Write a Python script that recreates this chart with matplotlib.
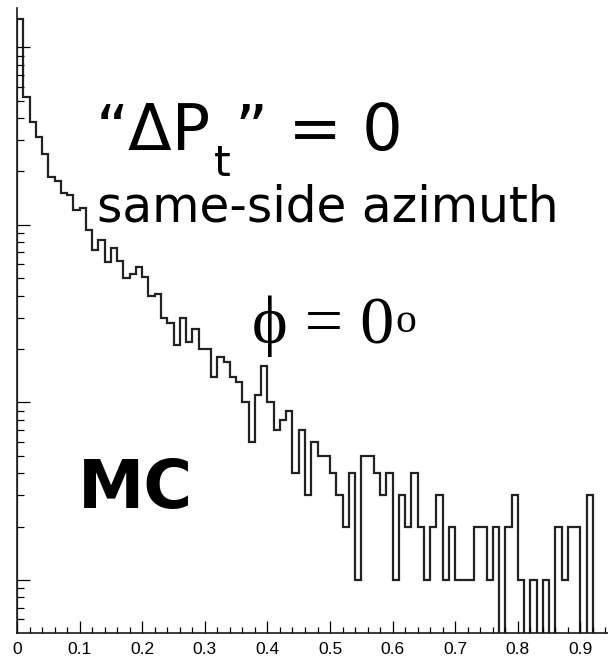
import numpy as np
import matplotlib
matplotlib.use("Agg")
import matplotlib.pyplot as plt
from matplotlib.ticker import FixedLocator, MultipleLocator, LogLocator, NullFormatter

# ---------------- data ----------------
bin_width = 0.01
counts = [1436, 525, 380, 311, 250, 186, 176, 151, 147, 121,
          125, 94, 72, 82, 62, 74, 63, 50, 53, 58,
          51, 40, 41, 30, 28, 21, 30, 22, 26, 20,
          20, 14, 18, 17, 14, 13, 10, 6, 11, 16,
          10, 7, 8, 9, 4, 7, 3, 6, 5, 5,
          4, 3, 2, 4, 1, 5, 5, 4, 3, 4,
          1, 3, 2, 4, 2, 1, 2, 3, 1, 2,
          1, 1, 1, 2, 2, 1, 2, 0, 2, 3,
          1, 0, 1, 0, 1, 0, 2, 1, 2, 2,
          0, 3]
x_tick_values = [0, 0.1, 0.2, 0.3, 0.4, 0.5, 0.6, 0.7, 0.8, 0.9]
x_tick_labels = ["0", "0.1", "0.2", "0.3", "0.4", "0.5", "0.6", "0.7", "0.8", "0.9"]
y_range = (0.505, 1660)
x_max = 0.944

# ---------------- figure ----------------
W, H = 608, 664
fig = plt.figure(figsize=(W / 100, H / 100), dpi=100)
ax_left, ax_bottom_px, ax_top_px = 17, 632.7, 8.3
ax = fig.add_axes([ax_left / W, (H - ax_bottom_px) / H,
                   (W - ax_left) / W, (ax_bottom_px - ax_top_px) / H])

edges = np.arange(len(counts) + 1) * bin_width
ax.stairs(counts, edges, baseline=0, fill=False, color="#222222", linewidth=1.6)

ax.set_yscale("log")
ax.set_xlim(0, x_max)
ax.set_ylim(*y_range)

for s in ("top", "right"):
    ax.spines[s].set_visible(False)
for s in ("left", "bottom"):
    ax.spines[s].set_linewidth(1.2)
    ax.spines[s].set_color("#1a1a1a")

ax.xaxis.set_major_locator(FixedLocator(x_tick_values))
ax.set_xticklabels(x_tick_labels, fontfamily="Liberation Sans", fontsize=12.5)
ax.xaxis.set_minor_locator(MultipleLocator(0.02))
ax.tick_params(axis="x", which="major", direction="in", length=9, width=0.9, pad=7)
ax.tick_params(axis="x", which="minor", direction="in", length=4.5, width=0.9)

ax.yaxis.set_major_locator(LogLocator(base=10))
ax.yaxis.set_minor_locator(LogLocator(base=10, subs=np.arange(2, 10)))
ax.yaxis.set_minor_formatter(NullFormatter())
ax.tick_params(axis="y", which="major", direction="in", length=9.5, width=0.9, labelleft=False)
ax.tick_params(axis="y", which="minor", direction="in", length=4.8, width=0.9, labelleft=False)


def fpos(x, y):
    return x / W, 1 - y / H


# "ΔPt" = 0
t1 = fig.text(*fpos(96, 150), "\u201cΔP", fontsize=46, family="DejaVu Sans",
              va="baseline", ha="left")
t2 = ax.annotate("t", xy=(1.0, 0.0), xycoords=t1, xytext=(2, -16),
                 textcoords="offset points", fontsize=31, family="DejaVu Sans",
                 va="bottom", ha="left", annotation_clip=False)
t3 = ax.annotate("\u201d = 0", xy=(1.0, 0.0), xycoords=(t2, t1), xytext=(3, 0),
                 textcoords="offset points", fontsize=46, family="DejaVu Sans",
                 va="bottom", ha="left", annotation_clip=False)

fig.text(*fpos(97, 222), "same-side azimuth", fontsize=35, family="DejaVu Sans",
         va="baseline", ha="left")

p1 = fig.text(*fpos(252, 343), "\u03d5 = 0", fontsize=49,
              family=["Liberation Serif", "DejaVu Serif"],
              va="baseline", ha="left")
ax.annotate("o", xy=(1.0, 1.0), xycoords=p1, xytext=(1, -5),
            textcoords="offset points", fontsize=30,
            family=["Liberation Serif", "DejaVu Serif"],
            va="top", ha="left", annotation_clip=False)

fig.text(*fpos(78, 508), "MC", fontsize=48, family="DejaVu Sans", weight="bold",
         va="baseline", ha="left")

fig.savefig("out.png", dpi=100)
